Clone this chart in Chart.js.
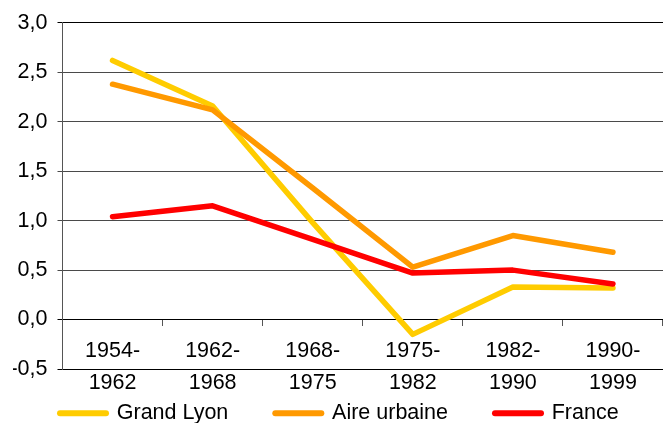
<!DOCTYPE html>
<html>
<head>
<meta charset="utf-8">
<script src="https://cdn.jsdelivr.net/npm/chart.js@4/dist/chart.umd.min.js"></script>
<style>
  html, body { margin: 0; padding: 0; background: #fff; }
  canvas { display: block; }
</style>
</head>
<body>
<canvas id="c" width="663" height="423"></canvas>
<script>
// ---- data ----
const periodStart = ['1954-', '1962-', '1968-', '1975-', '1982-', '1990-'];
const periodEnd   = ['1962', '1968', '1975', '1982', '1990', '1999'];
const grandLyon   = [2.62, 2.16, 0.98, -0.15, 0.33, 0.32];
const aireUrbaine = [2.38, 2.12, 1.33, 0.53, 0.85, 0.68];
const france      = [1.04, 1.15, 0.81, 0.47, 0.50, 0.36];
const seriesNames = ['Grand Lyon', 'Aire urbaine', 'France'];
const yTicks      = [-0.5, 0, 0.5, 1, 1.5, 2, 2.5, 3];

const categories = periodStart.map((s, i) => [s, periodEnd[i]]);

Chart.defaults.font.family = "'Liberation Sans', Arial, sans-serif";
Chart.defaults.font.size = 21.5;
Chart.defaults.color = '#000';

function lineDs(label, data, color, order) {
  return {
    label, data,
    borderColor: color, backgroundColor: color,
    borderWidth: 5.5, tension: 0, fill: false,
    pointRadius: 0, pointHoverRadius: 0,
    borderCapStyle: 'round', borderJoinStyle: 'round',
    order
  };
}

new Chart(document.getElementById('c'), {
  type: 'line',
  data: {
    labels: categories,
    datasets: [
      lineDs(seriesNames[0], grandLyon, '#FFCC00', 3),
      lineDs(seriesNames[1], aireUrbaine, '#FF9900', 2),
      lineDs(seriesNames[2], france, '#FF0000', 1)
    ]
  },
  options: {
    responsive: false,
    animation: false,
    events: [],
    layout: { padding: { left: 13, right: 0, top: 22, bottom: -11.05 } },
    scales: {
      x: {
        type: 'category',
        position: { y: 0 },
        offset: true,
        grid: { offset: true, drawOnChartArea: false, drawTicks: true, tickLength: 6, color: '#555', lineWidth: 1 },
        border: { display: false },
        ticks: { padding: 10, maxRotation: 0, autoSkip: false, font: { size: 21.5, lineHeight: 1.46 }, color: '#000' }
      },
      y: {
        min: -0.5, max: 3,
        afterBuildTicks: (s) => { s.ticks = yTicks.map(v => ({ value: v })); },
        afterFit: (s) => { s.width = 49.5; },
        grid: {
          color: (c) => (c.tick && (c.tick.value === 3 || c.tick.value === -0.5 || c.tick.value === 0)) ? '#000' : '#4a4a4a',
          lineWidth: 1, tickLength: 5, drawTicks: true
        },
        border: { display: true, color: '#555', width: 1 },
        ticks: {
          padding: 10, color: '#000',
          callback: (v) => Number(v).toFixed(1).replace('.', ',')
        }
      }
    },
    plugins: {
      tooltip: { enabled: false },
      legend: {
        display: true,
        position: 'bottom',
        align: 'start',
        title: { display: true, text: '', font: { size: 10, lineHeight: 1.2 }, padding: { top: 20.55, bottom: 0 } },
        labels: {
          usePointStyle: true,
          pointStyleWidth: 92,
          padding: 1,
          font: { size: 21.5 },
          color: '#000',
          sort: (a, b) => a.datasetIndex - b.datasetIndex,
          generateLabels: (chart) => Chart.defaults.plugins.legend.labels.generateLabels(chart).map(item => {
            const ds = chart.data.datasets[item.datasetIndex];
            return Object.assign(item, {
              pointStyle: 'dash', lineCap: 'round', lineWidth: 6,
              strokeStyle: ds.borderColor, fillStyle: ds.borderColor, lineDash: []
            });
          })
        }
      }
    }
  }
});
</script>
</body>
</html>
